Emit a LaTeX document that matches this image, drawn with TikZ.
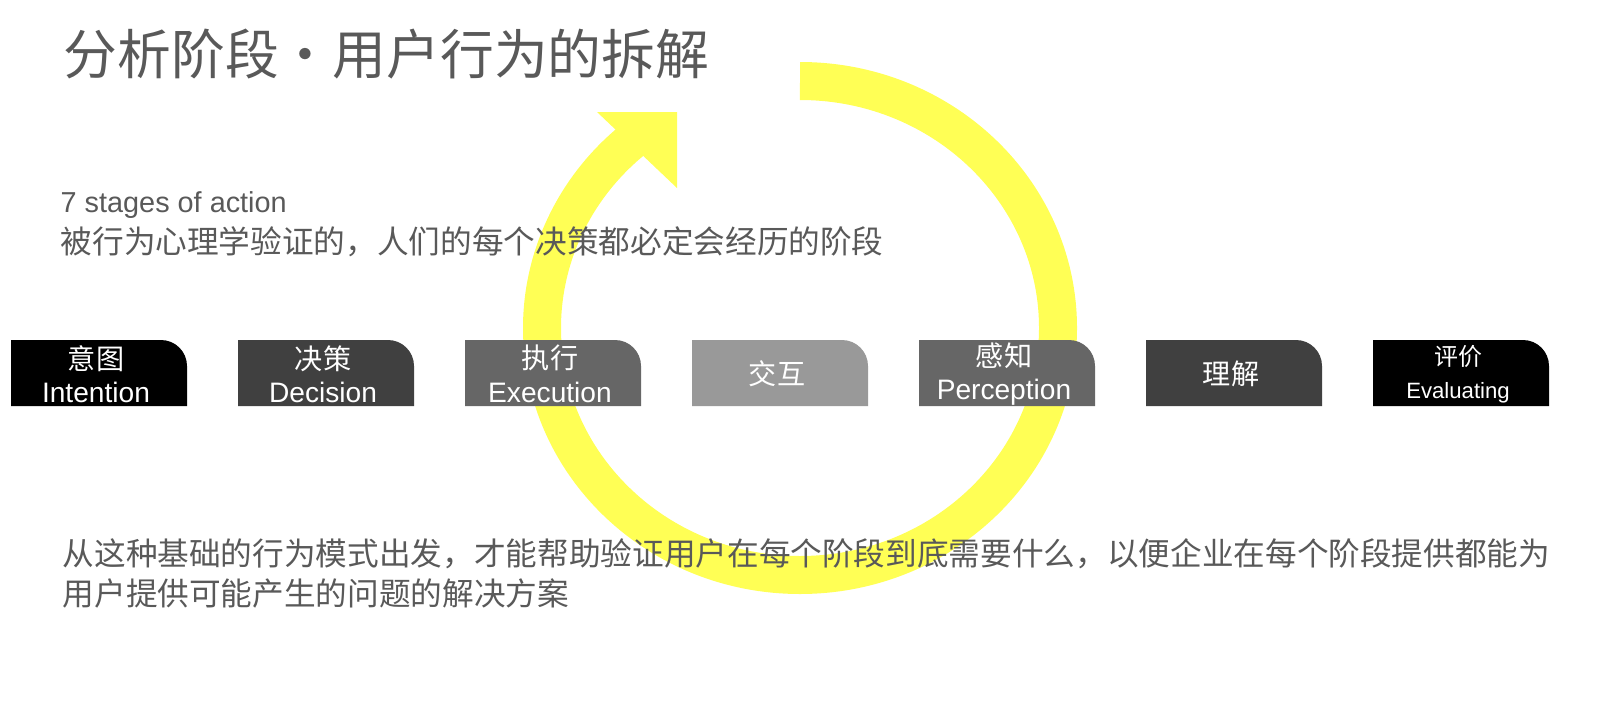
\documentclass[tikz,border=0pt]{standalone}
\usepackage{fontspec}
\setmainfont{Liberation Sans}
\newfontfamily\cjk{Noto Sans CJK SC}
\definecolor{ringyellow}{HTML}{FFFF55}
\definecolor{textgray}{HTML}{595959}
\tikzset{
  stagetext/.style={text=white, align=center, inner sep=0pt, font=\fontsize{8}{9.5}\selectfont},
  bodytext/.style={text=textgray, anchor=west, inner sep=0pt, font=\cjk\fontsize{9}{11}\selectfont}
}
\begin{document}
\begin{tikzpicture}[x=0.01cm, y=-0.01cm]
  \useasboundingbox (0,0) rectangle (1600,718);

  % yellow cycle arrow
  \draw[ringyellow, line width=38*0.01cm] (800,81) arc[start angle=270, end angle=590, x radius=258, y radius=247];
  \fill[ringyellow] (597,112) -- (677,112) -- (677,188) -- cycle;

  % title and notes
  \node[bodytext, font=\cjk\fontsize{15.3}{18}\selectfont] (title) at (63,54) {分析阶段·用户行为的拆解};
  \node[bodytext, font=\fontsize{8.2}{10}\selectfont] (stages) at (60,205) {7 stages of action};
  \node[bodytext] (proven) at (60,242) {被行为心理学验证的，人们的每个决策都必定会经历的阶段};

  % seven stages
  \foreach \i/\col/\txt in {0/black/{{\cjk 意图}\\Intention}, 1/black!75/{{\cjk 决策}\\Decision},
      2/black!60/{{\cjk 执行}\\Execution}, 3/black!40/{\cjk 交互}, 4/black!60/{{\cjk 感知}\\Perception},
      5/black!75/{\cjk 理解}, 6/black/{{\cjk\fontsize{6.8}{8}\selectfont 评价}\\\fontsize{6.3}{8}\selectfont Evaluating}} {
    \fill[\col] (11+227*\i,340) -- (161+227*\i,340) arc[start angle=270, end angle=360, radius=26]
      -- (187+227*\i,406) -- (11+227*\i,406) -- cycle;
    \node[stagetext] (s\i) at (96+227*\i,374) {\txt};
  }

  % closing remark
  \node[bodytext] (basis) at (62,554) {从这种基础的行为模式出发，才能帮助验证用户在每个阶段到底需要什么，以便企业在每个阶段提供都能为};
  \node[bodytext] (basis2) at (62,593) {用户提供可能产生的问题的解决方案};
\end{tikzpicture}
\end{document}
